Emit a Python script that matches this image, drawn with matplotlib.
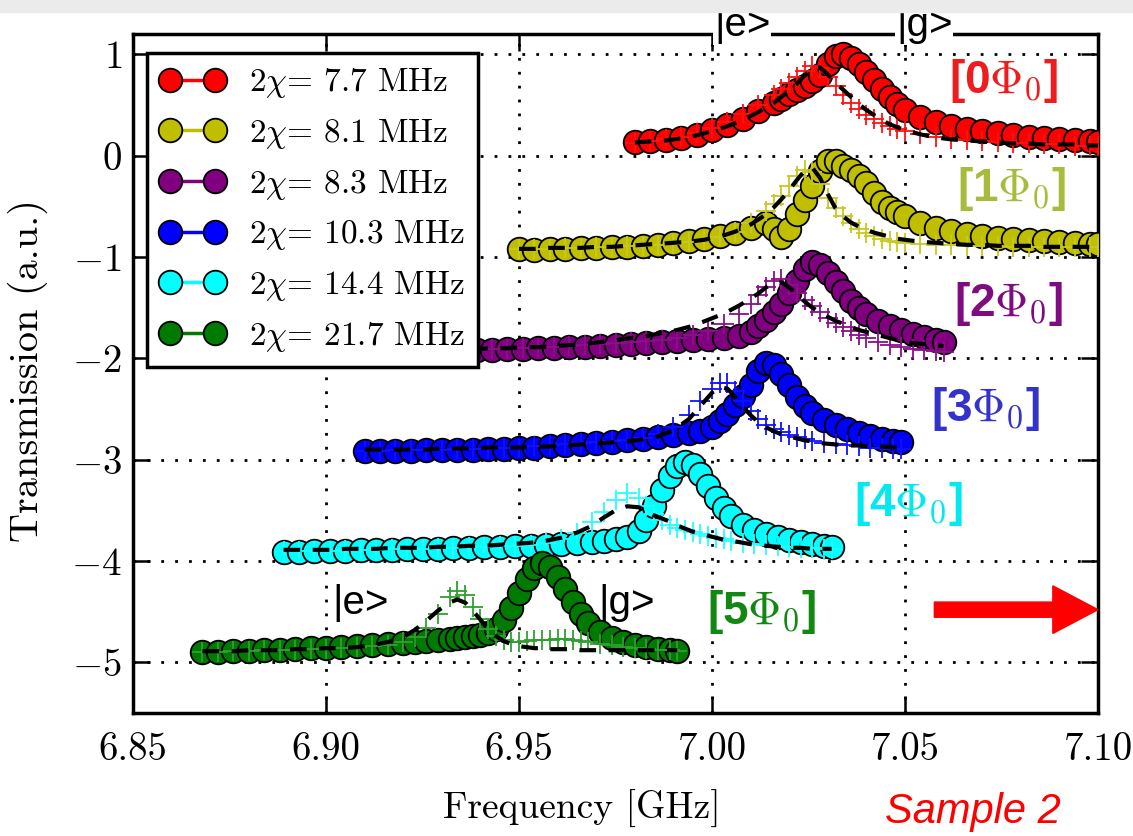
import matplotlib
matplotlib.use('Agg')
from matplotlib import pyplot as plt
from matplotlib.patches import Rectangle

plt.rcParams.update({'font.size': 27})
plt.rcParams['font.family'] = 'serif'
plt.rcParams['font.serif'] = ['cmr10', 'DejaVu Serif']
plt.rcParams['mathtext.fontset'] = 'cm'
plt.rcParams['axes.formatter.use_mathtext'] = True

# ---- data: frequency [GHz], circles (|g>), crosses (|e>), fit (dashed) ----
f_0 = [6.980, 6.984, 6.988, 6.992, 6.996, 7.000, 7.004, 7.008, 7.012, 7.016,
       7.018, 7.020, 7.022, 7.024, 7.026, 7.028, 7.030, 7.032, 7.034, 7.036,
       7.038, 7.040, 7.042, 7.044, 7.046, 7.048, 7.050, 7.054, 7.058, 7.062,
       7.066, 7.070, 7.074, 7.078, 7.082, 7.086, 7.090, 7.094, 7.098, 7.100]
circ_0 = [0.13, 0.14, 0.15, 0.17, 0.20, 0.25, 0.30, 0.36, 0.44, 0.52,
          0.56, 0.61, 0.65, 0.69, 0.74, 0.80, 0.90, 0.98, 1.00, 0.96,
          0.90, 0.83, 0.75, 0.66, 0.58, 0.51, 0.45, 0.38, 0.33, 0.29,
          0.26, 0.24, 0.22, 0.20, 0.18, 0.17, 0.16, 0.15, 0.14, 0.13]
plus_0 = [0.12, 0.14, 0.16, 0.18, 0.22, 0.27, 0.33, 0.41, 0.50, 0.60,
          0.66, 0.72, 0.78, 0.84, 0.88, 0.86, 0.78, 0.69, 0.60, 0.52,
          0.46, 0.40, 0.36, 0.32, 0.29, 0.26, 0.24, 0.21, 0.18, 0.16,
          0.15, 0.14, 0.13, 0.12, 0.12, 0.11, 0.11, 0.10, 0.10, 0.10]
fit_0 = [0.13, 0.14, 0.15, 0.17, 0.20, 0.24, 0.29, 0.35, 0.43, 0.52,
         0.58, 0.64, 0.71, 0.79, 0.86, 0.87, 0.80, 0.72, 0.65, 0.58,
         0.51, 0.45, 0.40, 0.35, 0.31, 0.28, 0.25, 0.21, 0.18, 0.16,
         0.15, 0.14, 0.13, 0.12, 0.12, 0.11, 0.11, 0.11, 0.10, 0.10]

f_1 = [6.950, 6.954, 6.958, 6.962, 6.966, 6.970, 6.974, 6.978, 6.982, 6.986,
       6.990, 6.994, 6.998, 7.002, 7.006, 7.010, 7.014, 7.016, 7.018, 7.020,
       7.022, 7.024, 7.026, 7.028, 7.030, 7.032, 7.034, 7.036, 7.038, 7.040,
       7.042, 7.044, 7.046, 7.048, 7.050, 7.054, 7.058, 7.062, 7.066, 7.070,
       7.074, 7.078, 7.082, 7.086, 7.090, 7.094, 7.098, 7.100]
circ_1 = [-0.92, -0.93, -0.92, -0.92, -0.91, -0.91, -0.90, -0.90, -0.89, -0.88,
          -0.86, -0.84, -0.82, -0.79, -0.76, -0.71, -0.66, -0.72, -0.80, -0.72,
          -0.58, -0.44, -0.30, -0.15, -0.05, -0.05, -0.10, -0.14, -0.20, -0.27,
          -0.37, -0.46, -0.52, -0.56, -0.60, -0.66, -0.71, -0.74, -0.77, -0.79,
          -0.81, -0.82, -0.83, -0.84, -0.85, -0.86, -0.87, -0.87]
plus_1 = [-0.92, -0.92, -0.92, -0.91, -0.91, -0.90, -0.90, -0.89, -0.89, -0.88,
          -0.87, -0.85, -0.83, -0.80, -0.75, -0.66, -0.55, -0.48, -0.40, -0.30,
          -0.20, -0.14, -0.16, -0.28, -0.42, -0.52, -0.60, -0.66, -0.72, -0.76,
          -0.79, -0.82, -0.84, -0.85, -0.86, -0.87, -0.88, -0.88, -0.89, -0.89,
          -0.89, -0.90, -0.90, -0.90, -0.90, -0.90, -0.90, -0.90]
fit_1 = [-0.92, -0.92, -0.91, -0.91, -0.91, -0.90, -0.90, -0.89, -0.88, -0.87,
         -0.86, -0.85, -0.83, -0.80, -0.75, -0.68, -0.58, -0.51, -0.43, -0.34,
         -0.24, -0.15, -0.12, -0.22, -0.38, -0.52, -0.60, -0.66, -0.70, -0.73,
         -0.76, -0.78, -0.80, -0.82, -0.83, -0.85, -0.86, -0.87, -0.88, -0.88,
         -0.89, -0.89, -0.89, -0.90, -0.90, -0.90, -0.90, -0.90]

f_2 = [6.915, 6.919, 6.923, 6.927, 6.931, 6.935, 6.939, 6.943, 6.947, 6.951,
       6.955, 6.959, 6.963, 6.967, 6.971, 6.975, 6.979, 6.983, 6.987, 6.991,
       6.995, 6.999, 7.003, 7.007, 7.010, 7.012, 7.014, 7.016, 7.018, 7.020,
       7.022, 7.024, 7.026, 7.028, 7.030, 7.032, 7.034, 7.036, 7.038, 7.040,
       7.043, 7.046, 7.049, 7.052, 7.055, 7.058, 7.060]
circ_2 = [-1.93, -1.93, -1.93, -1.93, -1.93, -1.92, -1.92, -1.92, -1.91, -1.91,
          -1.90, -1.90, -1.89, -1.89, -1.88, -1.87, -1.86, -1.85, -1.84, -1.83,
          -1.82, -1.81, -1.80, -1.78, -1.74, -1.68, -1.62, -1.54, -1.46, -1.36,
          -1.24, -1.12, -1.05, -1.08, -1.16, -1.25, -1.34, -1.43, -1.50, -1.56,
          -1.63, -1.68, -1.72, -1.76, -1.79, -1.82, -1.84]
plus_2 = [-1.93, -1.93, -1.93, -1.92, -1.92, -1.92, -1.92, -1.91, -1.91, -1.90,
          -1.90, -1.89, -1.88, -1.87, -1.86, -1.85, -1.84, -1.83, -1.82, -1.80,
          -1.77, -1.73, -1.66, -1.56, -1.46, -1.38, -1.30, -1.24, -1.22, -1.28,
          -1.36, -1.42, -1.48, -1.54, -1.60, -1.65, -1.69, -1.73, -1.77, -1.80,
          -1.84, -1.87, -1.89, -1.91, -1.92, -1.93, -1.94]
fit_2 = [-1.92, -1.92, -1.92, -1.92, -1.91, -1.91, -1.91, -1.90, -1.90, -1.89,
         -1.89, -1.88, -1.87, -1.86, -1.84, -1.82, -1.80, -1.78, -1.75, -1.72,
         -1.68, -1.62, -1.56, -1.48, -1.41, -1.36, -1.30, -1.26, -1.25, -1.30,
         -1.37, -1.44, -1.50, -1.55, -1.59, -1.63, -1.66, -1.69, -1.72, -1.74,
         -1.77, -1.80, -1.83, -1.85, -1.86, -1.87, -1.88]

f_3 = [6.910, 6.914, 6.918, 6.922, 6.926, 6.930, 6.934, 6.938, 6.942, 6.946,
       6.950, 6.954, 6.958, 6.962, 6.966, 6.970, 6.974, 6.978, 6.982, 6.986,
       6.990, 6.994, 6.997, 7.000, 7.002, 7.004, 7.006, 7.008, 7.010, 7.012,
       7.014, 7.016, 7.018, 7.020, 7.022, 7.024, 7.026, 7.029, 7.032, 7.035,
       7.038, 7.041, 7.044, 7.047, 7.049]
circ_3 = [-2.91, -2.91, -2.91, -2.91, -2.90, -2.90, -2.90, -2.90, -2.89, -2.89,
          -2.88, -2.88, -2.87, -2.86, -2.85, -2.84, -2.83, -2.81, -2.80, -2.78,
          -2.76, -2.74, -2.72, -2.68, -2.62, -2.55, -2.46, -2.37, -2.26, -2.13,
          -2.05, -2.07, -2.15, -2.26, -2.38, -2.47, -2.54, -2.61, -2.66, -2.70,
          -2.74, -2.77, -2.80, -2.82, -2.83]
plus_3 = [-2.91, -2.91, -2.90, -2.90, -2.90, -2.90, -2.89, -2.89, -2.89, -2.88,
          -2.88, -2.87, -2.86, -2.85, -2.84, -2.83, -2.82, -2.81, -2.79, -2.75,
          -2.68, -2.56, -2.42, -2.30, -2.24, -2.24, -2.32, -2.42, -2.52, -2.60,
          -2.66, -2.70, -2.73, -2.76, -2.78, -2.80, -2.82, -2.84, -2.85, -2.86,
          -2.87, -2.88, -2.88, -2.89, -2.89]
fit_3 = [-2.90, -2.90, -2.90, -2.90, -2.90, -2.89, -2.89, -2.89, -2.88, -2.88,
         -2.88, -2.87, -2.87, -2.86, -2.85, -2.84, -2.83, -2.82, -2.80, -2.77,
         -2.71, -2.60, -2.47, -2.34, -2.28, -2.30, -2.38, -2.48, -2.56, -2.63,
         -2.68, -2.72, -2.75, -2.77, -2.79, -2.81, -2.82, -2.84, -2.85, -2.86,
         -2.86, -2.87, -2.87, -2.88, -2.88]

f_4 = [6.889, 6.893, 6.897, 6.901, 6.905, 6.909, 6.913, 6.917, 6.921, 6.925,
       6.929, 6.933, 6.937, 6.941, 6.945, 6.949, 6.953, 6.957, 6.961, 6.965,
       6.969, 6.972, 6.975, 6.978, 6.981, 6.983, 6.985, 6.987, 6.989, 6.991,
       6.993, 6.995, 6.997, 6.999, 7.001, 7.003, 7.005, 7.008, 7.011, 7.014,
       7.017, 7.020, 7.023, 7.026, 7.029, 7.031]
circ_4 = [-3.91, -3.91, -3.90, -3.90, -3.90, -3.89, -3.89, -3.89, -3.88, -3.88,
          -3.88, -3.87, -3.87, -3.86, -3.86, -3.85, -3.85, -3.84, -3.83, -3.82,
          -3.81, -3.80, -3.78, -3.76, -3.70, -3.60, -3.46, -3.30, -3.16, -3.06,
          -3.02, -3.05, -3.14, -3.26, -3.38, -3.48, -3.56, -3.64, -3.69, -3.73,
          -3.76, -3.79, -3.81, -3.83, -3.85, -3.86]
plus_4 = [-3.90, -3.90, -3.90, -3.90, -3.89, -3.89, -3.89, -3.88, -3.88, -3.88,
          -3.87, -3.87, -3.86, -3.86, -3.85, -3.85, -3.84, -3.82, -3.78, -3.72,
          -3.62, -3.52, -3.40, -3.33, -3.38, -3.46, -3.54, -3.60, -3.64, -3.67,
          -3.69, -3.71, -3.73, -3.75, -3.77, -3.78, -3.80, -3.82, -3.83, -3.84,
          -3.85, -3.86, -3.87, -3.87, -3.88, -3.88]
fit_4 = [-3.89, -3.89, -3.89, -3.89, -3.88, -3.88, -3.88, -3.87, -3.87, -3.87,
         -3.86, -3.86, -3.85, -3.85, -3.84, -3.83, -3.82, -3.80, -3.77, -3.72,
         -3.65, -3.57, -3.50, -3.46, -3.47, -3.51, -3.55, -3.58, -3.61, -3.65,
         -3.68, -3.71, -3.73, -3.75, -3.77, -3.79, -3.80, -3.82, -3.84, -3.85,
         -3.86, -3.87, -3.87, -3.88, -3.88, -3.88]

f_5 = [6.868, 6.872, 6.876, 6.880, 6.884, 6.888, 6.892, 6.896, 6.900, 6.904,
       6.908, 6.912, 6.916, 6.920, 6.923, 6.926, 6.929, 6.932, 6.934, 6.936,
       6.938, 6.940, 6.942, 6.944, 6.946, 6.948, 6.950, 6.952, 6.954, 6.956,
       6.958, 6.960, 6.962, 6.964, 6.966, 6.968, 6.971, 6.974, 6.977, 6.980,
       6.983, 6.986, 6.989, 6.991]
circ_5 = [-4.90, -4.90, -4.89, -4.89, -4.88, -4.88, -4.87, -4.86, -4.86, -4.85,
          -4.84, -4.83, -4.82, -4.81, -4.80, -4.79, -4.78, -4.77, -4.76, -4.75,
          -4.74, -4.73, -4.71, -4.67, -4.58, -4.46, -4.32, -4.18, -4.07, -4.02,
          -4.06, -4.16, -4.28, -4.40, -4.52, -4.61, -4.70, -4.76, -4.80, -4.83,
          -4.85, -4.87, -4.88, -4.89]
plus_5 = [-4.90, -4.90, -4.89, -4.89, -4.88, -4.88, -4.88, -4.87, -4.87, -4.86,
          -4.85, -4.84, -4.83, -4.80, -4.75, -4.66, -4.52, -4.36, -4.30, -4.34,
          -4.45, -4.57, -4.67, -4.74, -4.78, -4.80, -4.80, -4.79, -4.78, -4.78,
          -4.78, -4.77, -4.77, -4.78, -4.79, -4.80, -4.82, -4.83, -4.85, -4.86,
          -4.87, -4.88, -4.88, -4.89]
fit_5 = [-4.89, -4.89, -4.89, -4.88, -4.88, -4.88, -4.87, -4.87, -4.86, -4.86,
         -4.85, -4.83, -4.80, -4.75, -4.68, -4.59, -4.49, -4.41, -4.38, -4.41,
         -4.49, -4.58, -4.67, -4.74, -4.79, -4.82, -4.84, -4.85, -4.86, -4.86,
         -4.87, -4.87, -4.87, -4.87, -4.88, -4.88, -4.88, -4.88, -4.88, -4.88,
         -4.88, -4.88, -4.88, -4.88]

chi_labels = ['7.7', '8.1', '8.3', '10.3', '14.4', '21.7']
flux_labels = ['0', '1', '2', '3', '4', '5']
colors = ['#ff0000', '#bfbf00', '#800080', '#0000ff', '#00ffff', '#007a00']
plus_colors = ['#ff1010', '#c8c820', '#8a108a', '#1010ff', '#20ffff', '#30a030']
label_colors = ['#ee1c1c', '#a9bb3c', '#800a80', '#3333cc', '#00eaf0', '#118811']
label_pos = [(7.0615, 0.74), (7.0635, -0.33), (7.0628, -1.46),
             (7.0568, -2.50), (7.0368, -3.44), (6.9988, -4.50)]

freqs = [f_0, f_1, f_2, f_3, f_4, f_5]
circs = [circ_0, circ_1, circ_2, circ_3, circ_4, circ_5]
pluses = [plus_0, plus_1, plus_2, plus_3, plus_4, plus_5]
fits = [fit_0, fit_1, fit_2, fit_3, fit_4, fit_5]

fig = plt.figure(figsize=(11.33, 8.36), dpi=100)
fig.patches.append(Rectangle((0, 0.986), 1, 0.014, transform=fig.transFigure,
                             color='#ebebeb', zorder=0))
axis = fig.add_axes([0.1174, 0.1471, 0.8517, 0.8122])

for i in range(6):
    axis.plot(freqs[i], circs[i], '-o', color=colors[i], markersize=17,
              markeredgecolor='black', markeredgewidth=1.3, linewidth=2.5,
              label=r'$2\chi$= ' + chi_labels[i] + ' MHz', zorder=3 + i)
    axis.plot(freqs[i], pluses[i], '+', color=plus_colors[i], markersize=15,
              markeredgewidth=1.3, zorder=3 + i)
    axis.plot(freqs[i], fits[i], '--', color='black', linewidth=3,
              dashes=(4, 3), zorder=3 + i)
    x, y = label_pos[i]
    axis.text(x, y, '[' + flux_labels[i] + r'$\Phi_0$]', color=label_colors[i],
              fontsize=33, fontweight='bold', family='Liberation Sans',
              ha='left', va='center', zorder=20)

# state labels
box = dict(facecolor='white', edgecolor='none', pad=0.5)
axis.text(7.0078, 1.285, '|e>', family='Liberation Sans', fontsize=29, ha='center',
          va='center', bbox=box, clip_on=False, zorder=30)
axis.text(7.055, 1.285, '|g>', family='Liberation Sans', fontsize=29, ha='center',
          va='center', bbox=box, clip_on=False, zorder=30)
axis.text(6.909, -4.41, '|e>', family='Liberation Sans', fontsize=29, ha='center',
          va='center', zorder=20)
axis.text(6.978, -4.41, '|g>', family='Liberation Sans', fontsize=29, ha='center',
          va='center', zorder=20)

axis.arrow(7.0576, -4.48, 0.0424, 0, width=0.15, head_width=0.47, head_length=0.0117,
           length_includes_head=True, color='red', clip_on=False, zorder=25)

axis.set_xlim(6.85, 7.10)
axis.set_ylim(-5.5, 1.2)
axis.set_xticks([6.85, 6.90, 6.95, 7.00, 7.05, 7.10])
axis.set_xticklabels(['6.85', '6.90', '6.95', '7.00', '7.05', '7.10'])
axis.set_yticks([1, 0, -1, -2, -3, -4, -5])
axis.tick_params(direction='in', length=12, width=1.8, top=True, right=True,
                 labelsize=28)
axis.tick_params(axis='x', pad=14)
axis.tick_params(axis='y', pad=8)
axis.grid(True, color='black', linestyle=(0, (1, 4)), linewidth=2)
axis.set_axisbelow(True)
for sp in axis.spines.values():
    sp.set_linewidth(2.5)

axis.set_xlabel('Frequency [GHz]', fontsize=27)
axis.xaxis.set_label_coords(0.465, -0.113)
axis.set_ylabel('Transmission (a.u.)', fontsize=29)
axis.yaxis.set_label_coords(-0.088, 0.504)

leg = axis.legend(loc='upper left', bbox_to_anchor=(0.0145, 0.972), borderaxespad=0,
                  fontsize=24, numpoints=2, handlelength=1.95, handletextpad=0.7,
                  labelspacing=0.5, fancybox=False, framealpha=1, borderpad=0.4)
leg.get_frame().set_edgecolor('black')
leg.get_frame().set_linewidth(2.5)
leg.set_zorder(40)

fig.text(0.781, 0.016, 'Sample 2', color='red', style='italic',
         family='Liberation Sans', fontsize=30, va='baseline')

plt.savefig('out.png', dpi=100)
